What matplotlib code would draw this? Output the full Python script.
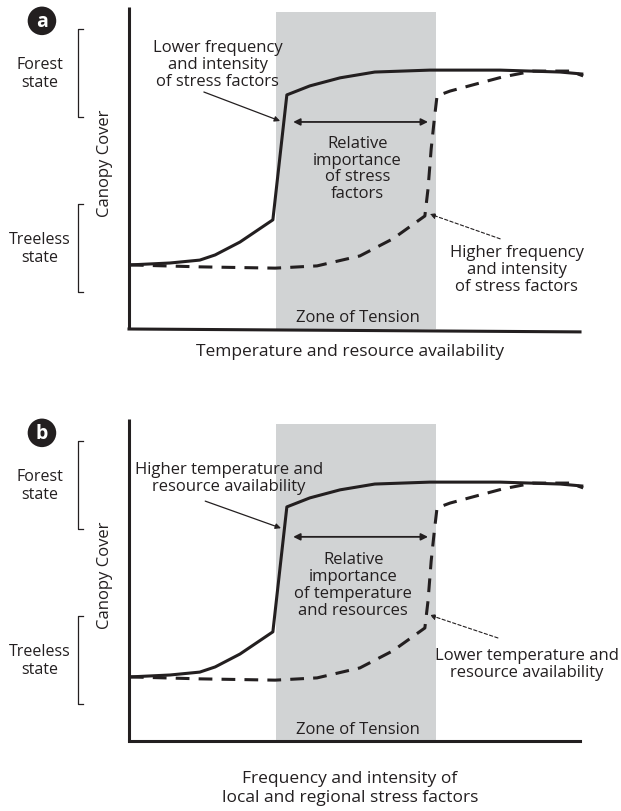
import matplotlib
matplotlib.use("Agg")
import matplotlib.pyplot as plt

plt.rcParams['font.family'] = ['Open Sans', 'DejaVu Sans']

INK = '#231f20'
ZONE = '#d1d3d4'

# curve shapes, in percent of the axis box (x = driver, y = canopy cover)
solid_x = [0.2, 9.1, 15.7, 19.1, 24.6, 31.9, 35.0, 40.1, 46.8, 54.5, 66.7, 82.3, 95.6, 100.4]
solid_y = [19.9, 20.5, 21.4, 23.0, 27.0, 33.9, 72.7, 75.5, 78.0, 79.8, 80.4, 80.4, 79.8, 79.2]
dash_x = [0.2, 15.7, 32.4, 41.7, 51.2, 58.5, 65.6, 66.3, 67.0, 67.7, 68.3, 71.2, 77.8, 82.9, 89.6, 97.8, 100.7]
dash_y = [19.9, 19.3, 18.9, 19.6, 22.7, 28.0, 35.1, 43.5, 55.9, 65.2, 72.4, 73.9, 76.4, 78.3, 80.1, 80.1, 78.6]

zone = (32.6, 68.1)

panels = [
    dict(letter='a',
         upper='Lower frequency\nand intensity\nof stress factors',
         middle='Relative\nimportance\nof stress\nfactors',
         lower='Higher frequency\nand intensity\nof stress factors',
         xlabel='Temperature and resource availability',
         upper_xy=(19.7, 82.3), upper_arrow=((16.6, 73.6), (33.5, 64.6)),
         middle_xy=(50.6, 50.0), arrow_y=64.3,
         lower_xy=(86.0, 18.6), lower_arrow=((82.3, 28.0), (66.7, 35.7)),
         xlabel_y=-6.8, xaxis_end=-0.9),
    dict(letter='b',
         upper='Higher temperature and\nresource availability',
         middle='Relative\nimportance\nof temperature\nand resources',
         lower='Lower temperature and\nresource availability',
         xlabel='Frequency and intensity of\nlocal and regional stress factors',
         upper_xy=(22.2, 81.7), upper_arrow=((16.9, 74.5), (33.7, 66.1)),
         middle_xy=(49.7, 48.6), arrow_y=63.4,
         lower_xy=(88.2, 24.2), lower_arrow=((81.8, 32.0), (66.7, 39.1)),
         xlabel_y=-14.3, xaxis_end=0.0),
]

fig = plt.figure(figsize=(6.21, 8.12), dpi=100)
fs = 12

for i, p in enumerate(panels):
    top = 330 + 412 * i
    ax = fig.add_axes([129 / 621, (812 - top) / 812, 451 / 621, 322 / 812])
    ax.set_xlim(0, 100)
    ax.set_ylim(0, 100)
    ax.axis('off')

    ax.axvspan(zone[0], zone[1], ymin=0, ymax=0.985, color=ZONE, lw=0, zorder=0)
    ax.plot([0, 0], [0, 100], color=INK, lw=2.2, solid_capstyle='butt', clip_on=False)
    ax.plot([0, 100], [0, p['xaxis_end']], color=INK, lw=2.2, clip_on=False)

    ax.plot(solid_x, solid_y, color=INK, lw=2.2, clip_on=False, zorder=3)
    ax.plot(dash_x, dash_y, color=INK, lw=2.2, ls=(0, (4.5, 3)), clip_on=False, zorder=3)

    # double arrow across the zone
    ax.annotate('', xy=(36.4, p['arrow_y']), xytext=(66.3, p['arrow_y']),
                arrowprops=dict(arrowstyle='<|-|>', color=INK, lw=1.3,
                                mutation_scale=10, shrinkA=0, shrinkB=0))
    ax.text(*p['middle_xy'], p['middle'], ha='center', va='center', fontsize=fs,
            color=INK, linespacing=1.07)

    ax.text(*p['upper_xy'], p['upper'], ha='center', va='center', fontsize=fs,
            color=INK, linespacing=1.08)
    ax.annotate('', xy=p['upper_arrow'][1], xytext=p['upper_arrow'][0],
                arrowprops=dict(arrowstyle='-|>', color=INK, lw=0.9,
                                mutation_scale=8, shrinkA=0, shrinkB=0))

    ax.text(*p['lower_xy'], p['lower'], ha='center', va='center', fontsize=fs,
            color=INK, linespacing=1.08)
    ax.annotate('', xy=p['lower_arrow'][1], xytext=p['lower_arrow'][0],
                arrowprops=dict(arrowstyle='-|>', color=INK, lw=0.8, ls=(0, (3, 2)),
                                mutation_scale=8, shrinkA=0, shrinkB=0))

    ax.text(50.8, 3.7, 'Zone of Tension', ha='center', va='center', fontsize=fs, color=INK)
    ax.text(49, p['xlabel_y'], p['xlabel'], ha='center', va='center', fontsize=fs + 0.5,
            color=INK, linespacing=1.25)
    ax.text(-5.3, 51.9, 'Canopy Cover', ha='center', va='center', rotation=90,
            fontsize=fs, color=INK)

    # state brackets on the left
    for label, y0, y1 in [('Forest\nstate', 65.8, 93.2), ('Treeless\nstate', 11.5, 38.8)]:
        ax.plot([-10.2, -11.3, -11.3, -10.2], [y0, y0, y1, y1], color=INK, lw=0.9,
                clip_on=False)
        ax.text(-19.7, (y0 + y1) / 2, label, ha='center', va='center', fontsize=fs - 0.5,
                color=INK, linespacing=1.15)

    ax.text(-19.3, 95.7, p['letter'], ha='center', va='center', fontsize=fs + 2,
            color='white', fontweight='bold',
            bbox=dict(boxstyle='circle,pad=0.22', fc=INK, ec='none'))

fig.savefig('out.png', dpi=100)
